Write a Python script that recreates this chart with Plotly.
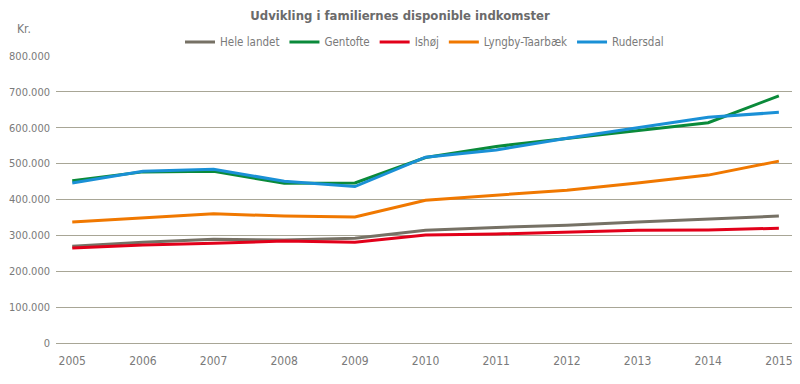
import plotly.graph_objects as go

years = [2005, 2006, 2007, 2008, 2009, 2010, 2011, 2012, 2013, 2014, 2015]
hele_landet = [270000, 281000, 289000, 287000, 292000, 314000, 322000, 328000, 337000, 345000, 354000]
gentofte = [452000, 477000, 479000, 445000, 446000, 517000, 548000, 570000, 591000, 614000, 689000]
ishoj = [265000, 273000, 278000, 284000, 281000, 301000, 304000, 309000, 314000, 315000, 320000]
lyngby = [337000, 348000, 360000, 354000, 351000, 398000, 412000, 426000, 446000, 468000, 507000]
rudersdal = [446000, 479000, 484000, 451000, 436000, 518000, 538000, 571000, 600000, 629000, 643000]

series = [
    ("Hele landet", hele_landet, "#767165"),
    ("Gentofte", gentofte, "#0a8a3a"),
    ("Ishøj", ishoj, "#e2001a"),
    ("Lyngby-Taarbæk", lyngby, "#f07800"),
    ("Rudersdal", rudersdal, "#1a90d6"),
]

FONT = "DejaVu Sans Condensed, Liberation Sans Narrow, sans-serif"
TXT = "#7a7a7a"

fig = go.Figure()
for name, vals, col in series:
    fig.add_trace(go.Scatter(x=years, y=vals, name=name, mode="lines",
                             line=dict(color=col, width=3)))

# page body has an 8px margin, so the figure is 8px smaller and shifted
fig.update_layout(
    width=792, height=376,
    margin=dict(l=48, r=7, t=48, b=41, autoexpand=False),
    paper_bgcolor="white", plot_bgcolor="white",
    font=dict(family=FONT, size=12, color=TXT),
    separators=",.",
    title=dict(text="<b>Udvikling i familiernes disponible indkomster</b>",
               x=0.495, xanchor="center", y=0.981, yanchor="middle",
               font=dict(size=13, color="#6b6b6b", family=FONT)),
    legend=dict(orientation="h", x=0.5, xanchor="center", y=1.049, yanchor="middle",
                font=dict(size=11.5, color=TXT, family=FONT), itemwidth=30,
                bgcolor="rgba(0,0,0,0)", traceorder="normal"),
    showlegend=True,
)
fig.update_xaxes(range=[2004.77, 2015.2], tickmode="array", tickvals=years,
                 ticktext=[str(y) for y in years], showgrid=False, zeroline=False,
                 showline=False, ticks="", automargin=False, ticklabelstandoff=9,
                 tickfont=dict(size=12, color=TXT))
fig.update_yaxes(range=[0, 800000], tickvals=list(range(0, 800001, 100000)),
                 tickformat=",d", showgrid=True, gridcolor="#a8a696", gridwidth=1,
                 zeroline=True, zerolinecolor="#a8a696", zerolinewidth=1,
                 showline=False, ticks="", ticklabelstandoff=5, automargin=False,
                 tickfont=dict(size=11, color=TXT))
fig.add_annotation(text="Kr.", xref="paper", yref="paper", x=-0.0434, y=1.094,
                   xanchor="center", yanchor="middle", showarrow=False,
                   font=dict(size=12, color=TXT, family=FONT))

fig.write_html("out.html")
